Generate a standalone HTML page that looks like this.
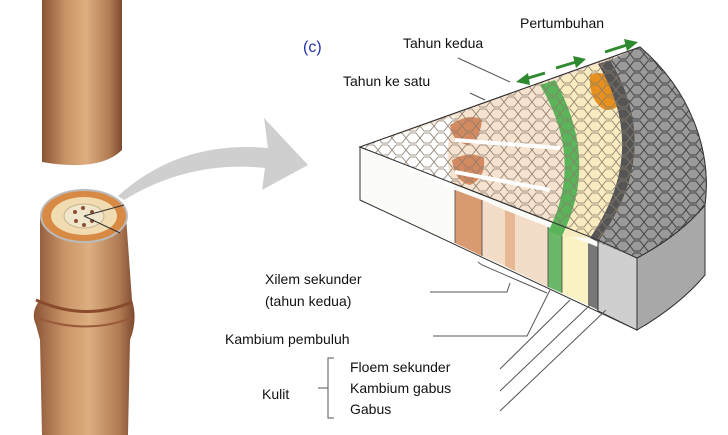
<!DOCTYPE html>
<html><head><meta charset="utf-8"><style>
html,body{margin:0;padding:0;background:#fff;}
svg{display:block;}
text{font-family:"Liberation Sans",sans-serif;font-size:14px;fill:#111;}
</style></head><body>
<svg width="728" height="435" viewBox="0 0 728 435" xmlns="http://www.w3.org/2000/svg">
<defs>
<linearGradient id="stem" x1="0" x2="1" y1="0" y2="0">
<stop offset="0" stop-color="#8a5436"/><stop offset="0.3" stop-color="#c99467"/><stop offset="0.55" stop-color="#dcae80"/><stop offset="0.85" stop-color="#b07a52"/><stop offset="1" stop-color="#7c4a30"/>
</linearGradient>
<pattern id="cells" width="14" height="12" patternUnits="userSpaceOnUse">
<path d="M0,6 L4,1 L10,1 L14,6 L10,11 L4,11 Z" fill="none" stroke="#8a7a6a" stroke-width="0.8"/>
</pattern>
<pattern id="cellsd" width="14" height="12" patternUnits="userSpaceOnUse">
<path d="M0,6 L4,1 L10,1 L14,6 L10,11 L4,11 Z" fill="none" stroke="#444" stroke-width="1"/>
</pattern>
</defs>

<!-- stems -->
<path d="M42,0 L122,0 L122,150 Q100,172 42,162 Z" fill="url(#stem)"/>
<path d="M40,216 L40,300 Q30,312 36,325 L40,340 L42,435 L128,435 L130,340 Q138,320 132,300 L126,216 Z" fill="url(#stem)"/>
<path d="M36,300 Q85,322 132,302" fill="none" stroke="#8a4a2c" stroke-width="3"/>
<path d="M38,318 Q85,335 132,318" fill="none" stroke="#9a5a3a" stroke-width="2"/>
<ellipse cx="84" cy="216" rx="43" ry="26" fill="#d88a45" stroke="#bbb" stroke-width="2"/>
<ellipse cx="84" cy="216" rx="33" ry="19" fill="#f0dcb0"/>
<ellipse cx="84" cy="216" rx="20" ry="12" fill="#efe6cc" stroke="#c9b48a"/>
<g fill="#8a5030"><circle cx="75" cy="212" r="2"/><circle cx="83" cy="208" r="2"/><circle cx="92" cy="212" r="2"/><circle cx="92" cy="221" r="2"/><circle cx="76" cy="221" r="2"/><circle cx="84" cy="225" r="2"/></g>
<path d="M84,216 L124,205 M84,216 L120,233" stroke="#333" stroke-width="1"/>

<!-- gray arrow -->
<path d="M118,196 Q180,140 268,148 L264,118 L308,165 L262,190 L265,168 Q190,160 124,200 Z" fill="#cfcfcf"/>

<!-- wedge front face -->
<path d="M360,147 L598,240 L637,258 L637,330 L360,200 Z" fill="#fbfbf8" stroke="#333" stroke-width="1"/>
<polygon points="455,190 482,200 482,256 455,243" fill="#d99a72"/>
<polygon points="482,200 505,210 505,266 482,256" fill="#f4ddc8"/>
<polygon points="505,210 515,214 515,271 505,266" fill="#e6b893"/>
<polygon points="515,214 548,227 548,287 515,271" fill="#f4ddc8"/>
<polygon points="548,227 562,233 562,293 548,287" fill="#6cb86a"/>
<polygon points="562,233 588,243 588,305 562,293" fill="#fbf2c4"/>
<polygon points="588,243 598,247 598,310 588,305" fill="#777"/>
<polygon points="598,240 637,258 637,330 598,311" fill="#cfcfcf" stroke="#333"/>
<g stroke="#444" stroke-width="0.8"><line x1="455" y1="190" x2="455" y2="243"/><line x1="482" y1="200" x2="482" y2="256"/><line x1="548" y1="227" x2="548" y2="287"/><line x1="562" y1="233" x2="562" y2="293"/></g>
<!-- outer side face -->
<path d="M637,258 Q680,235 705,205 L705,275 Q680,305 637,330 Z" fill="#a8a8a8" stroke="#333"/>

<!-- top surface -->
<path d="M360,147 L640,47 C690,90 712,150 705,205 Q680,235 637,258 L598,240 Z" fill="#f5e3cf" stroke="#333"/>
<path d="M360,147 L455,116 Q440,155 455,190 Z" fill="#ffffff"/>
<path d="M450,125 Q470,112 482,120 Q480,140 468,145 Q452,142 450,125 Z" fill="#d48a60"/>
<path d="M452,160 Q470,150 484,158 Q486,178 470,185 Q455,182 452,160 Z" fill="#d48a60"/>
<path d="M540,85 Q585,160 548,232 L562,236 Q600,160 555,80 Z" fill="#5ab55a"/>
<path d="M555,80 L598,64 Q650,150 590,238 L562,236 Q600,160 555,80 Z" fill="#f7ebbf"/>
<path d="M590,75 Q612,68 622,90 Q625,110 605,110 Q588,100 590,75 Z" fill="#e8901e"/>
<path d="M628,150 Q645,150 645,175 Q640,215 615,225 Q615,190 628,150 Z" fill="#e8901e"/>
<path d="M598,64 L610,60 Q665,150 598,242 L590,238 Q650,150 598,64 Z" fill="#555"/>
<path d="M610,60 L640,47 C690,90 712,150 705,205 Q680,235 637,258 L598,242 Q665,150 610,60 Z" fill="#9a9a9a"/>
<path d="M360,147 L640,47 C690,90 712,150 705,205 Q680,235 637,258 L598,240 Z" fill="url(#cells)" stroke="#333"/>
<path d="M610,60 L640,47 C690,90 712,150 705,205 Q680,235 637,258 L598,242 Q665,150 610,60 Z" fill="url(#cellsd)"/>
<path d="M455,140 L560,148 M455,172 L550,190" stroke="#fff" stroke-width="4"/>

<!-- green arrows -->
<g fill="#2f8a2f" stroke="#2f8a2f" stroke-width="3">
<line x1="545" y1="73" x2="525" y2="79"/><polygon points="516,82 528,73 530,85" stroke="none"/>
<line x1="556" y1="68" x2="576" y2="62"/><polygon points="586,59 573,56 576,68" stroke="none"/>
<line x1="605" y1="52" x2="627" y2="45"/><polygon points="638,42 624,39 627,51" stroke="none"/>
</g>

<!-- leaders -->
<g stroke="#555" stroke-width="1" fill="none">
<path d="M430,292 L507,292 L510,283"/>
<path d="M478,262 L482,265 L547,293"/>
<path d="M433,336 L527,336 L550,290"/>
<path d="M500,369 L570,300"/>
<path d="M500,391 L590,305"/>
<path d="M500,411 L606,310"/>
<path d="M458,58 L510,82"/>
<path d="M470,93 L485,100"/>
<path d="M334,358 L328,358 L328,418 L334,418 M328,388 L318,388"/>
</g>

<text x="303" y="52" style="fill:#2233aa;font-size:16px">(c)</text>
<text x="520" y="28">Pertumbuhan</text>
<text x="403" y="48">Tahun kedua</text>
<text x="343" y="86">Tahun ke satu</text>
<text x="265" y="284">Xilem sekunder</text>
<text x="265" y="306">(tahun kedua)</text>
<text x="225" y="344">Kambium pembuluh</text>
<text x="350" y="372">Floem sekunder</text>
<text x="350" y="393">Kambium gabus</text>
<text x="350" y="414">Gabus</text>
<text x="262" y="399">Kulit</text>
</svg>
</body></html>
